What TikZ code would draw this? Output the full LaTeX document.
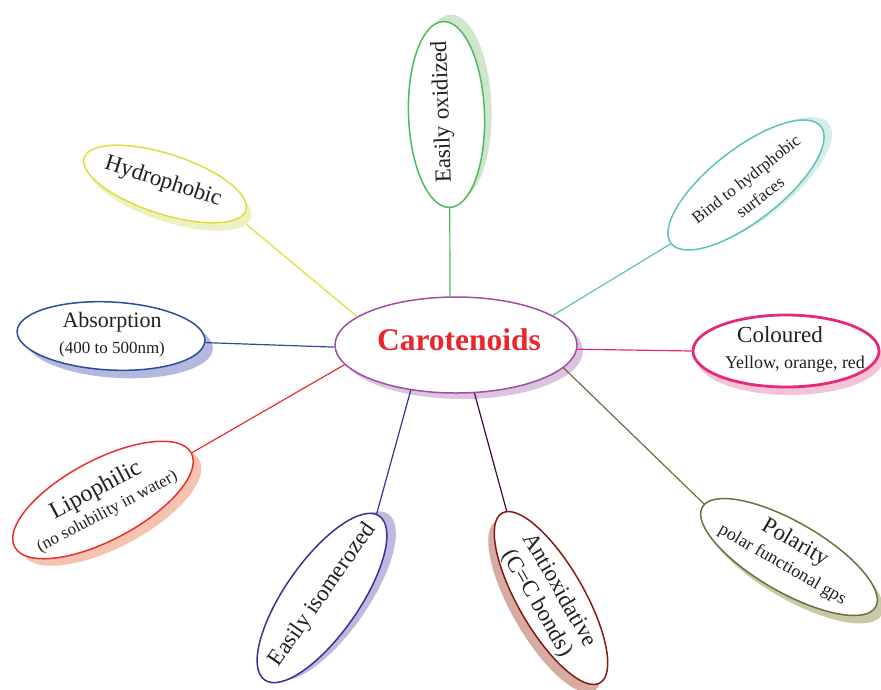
\documentclass[tikz,border=0pt]{standalone}
\usepackage{fontspec}
\setmainfont{Liberation Serif}
\usetikzlibrary{shapes.geometric}
\definecolor{carC}{HTML}{A04FA0}\definecolor{carS}{HTML}{DCC4E0}
\definecolor{oxiC}{HTML}{4CBB5C}\definecolor{oxiS}{HTML}{CFE6CC}
\definecolor{hydC}{HTML}{DEDE3A}\definecolor{hydS}{HTML}{EFF0C2}
\definecolor{absC}{HTML}{2B4D9B}\definecolor{absS}{HTML}{B4B8DE}
\definecolor{lipC}{HTML}{E8302E}\definecolor{lipS}{HTML}{F7C3B1}
\definecolor{isoC}{HTML}{3C2F97}\definecolor{isoS}{HTML}{BDBADE}
\definecolor{antC}{HTML}{8A1616}\definecolor{antS}{HTML}{D6ABA0}\definecolor{antL}{HTML}{3D0A3D}
\definecolor{polC}{HTML}{6E6E3A}\definecolor{polS}{HTML}{C9C9A6}
\definecolor{colC}{HTML}{E52A7B}\definecolor{colS}{HTML}{F5C4D4}
\definecolor{binC}{HTML}{5FC1B9}\definecolor{binS}{HTML}{D4EDE9}
\definecolor{txt}{HTML}{231F20}
\definecolor{titleC}{HTML}{E8272D}
\begin{document}
\begin{tikzpicture}[x=1pt,y=-1pt,
  shd/.style={ellipse, inner sep=0pt},
  bub/.style={ellipse, draw, fill=white, inner sep=0pt, line width=1.5pt},
  lbl/.style={align=center, inner sep=0pt, text=txt},
  link/.style={line width=1.2pt}]
\useasboundingbox (0,0) rectangle (881,689);
% shadows
\node[shd, fill=carS, minimum width=242, minimum height=96] (carS) at (462,351) {};
\node[shd, fill=oxiS, minimum width=186, minimum height=76, rotate=92] (oxiS) at (453.5,107.5) {};
\node[shd, fill=hydS, minimum width=170, minimum height=60, rotate=-18] (hydS) at (170,192) {};
\node[shd, fill=absS, minimum width=188, minimum height=68, rotate=-3] (absS) at (119,344) {};
\node[shd, fill=lipS, minimum width=200, minimum height=80, rotate=28] (lipS) at (111,507) {};
\node[shd, fill=isoS, minimum width=200, minimum height=74, rotate=55] (isoS) at (331,596) {};
\node[shd, fill=antS, minimum width=196, minimum height=66, rotate=-60] (antS) at (545,606) {};
\node[shd, fill=polS, minimum width=200, minimum height=70, rotate=-30] (polS) at (795,565) {};
\node[shd, fill=colS, minimum width=186, minimum height=72] (colS) at (790,359) {};
\node[shd, fill=binS, minimum width=190, minimum height=72, rotate=38] (binS) at (754,182) {};
% bubbles
\node[bub, draw=carC, minimum width=242, minimum height=96] (car) at (456,345) {};
\node[bub, draw=oxiC, minimum width=186, minimum height=76, rotate=92] (oxi) at (446.5,114.5) {};
\node[bub, draw=hydC, minimum width=170, minimum height=60, rotate=-18] (hyd) at (165,184) {};
\node[bub, draw=absC, minimum width=188, minimum height=68, rotate=-3] (abs) at (111,336) {};
\node[bub, draw=lipC, minimum width=200, minimum height=80, rotate=28] (lip) at (103,500) {};
\node[bub, draw=isoC, minimum width=200, minimum height=74, rotate=55] (iso) at (322,598) {};
\node[bub, draw=antC, minimum width=196, minimum height=66, rotate=-60] (ant) at (551,598) {};
\node[bub, draw=polC, minimum width=200, minimum height=70, rotate=-30] (pol) at (789,557) {};
\node[bub, draw=colC, line width=2.8pt, minimum width=186, minimum height=72] (col) at (786,351) {};
\node[bub, draw=binC, minimum width=190, minimum height=72, rotate=38] (bin) at (746,185) {};
% connectors
\draw[link, oxiC] (car.97) -- (oxi.180);
\draw[link, hydC] (car.164) -- (hydS.-5);
\draw[link, absC] (car.181) -- (abs.-1);
\draw[link, lipC] (car.190) -- (lip.0);
\draw[link, isoC] (car.225) -- (iso.2);
\draw[link, antL] (car.-69) -- (ant.177);
\draw[link, polC] (car.-12) -- (pol.178);
\draw[link, colC] (car.-2) -- (col.180);
\draw[link, binC] (car.17) -- (bin.180);
% labels
\node[lbl, text=titleC, font=\bfseries\fontsize{31.5}{34}\selectfont] (carT) at (459,340) {Carotenoids};
\node[lbl, rotate=92, font=\fontsize{23}{27}\selectfont] (oxiT) at (443,112) {Easily oxidized};
\node[lbl, rotate=-18, font=\fontsize{23}{27}\selectfont] (hydT) at (163,182) {Hydrophobic};
\node[lbl, font=\fontsize{22}{26}\selectfont] (absT) at (112,335) {Absorption\\{\fontsize{17}{20}\selectfont(400 to 500nm)}};
\node[lbl, rotate=28, font=\fontsize{24}{23}\selectfont] (lipT) at (101,500) {Lipophilic\\{\fontsize{17}{20}\selectfont(no solubility in water)}};
\node[lbl, rotate=55, font=\fontsize{23}{27}\selectfont] (isoT) at (323,595) {Easily isomerozed};
\node[lbl, rotate=-60, font=\fontsize{23}{26}\selectfont] (antT) at (548,597) {Antioxidative\\(C=C bonds)};
\node[lbl, rotate=-30, font=\fontsize{23}{24}\selectfont] (polT) at (789,553) {Polarity\\{\fontsize{18}{20}\selectfont polar functional gps}};
\node[lbl, font=\fontsize{23}{27}\selectfont] (colT1) at (780,335) {Coloured};
\node[lbl, font=\fontsize{18}{21}\selectfont] (colT2) at (795,364) {Yellow, orange, red};
\node[lbl, rotate=38, font=\fontsize{17}{23}\selectfont] (binT) at (753,188) {Bind to hydrphobic\\surfaces};
\end{tikzpicture}
\end{document}
